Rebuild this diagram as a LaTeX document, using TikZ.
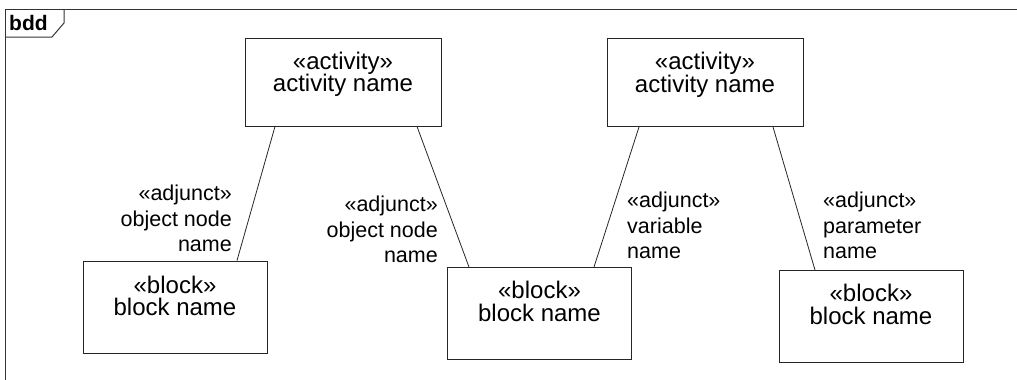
\documentclass[tikz,border=0pt]{standalone}
\usepackage{fontspec}
\setmainfont{Liberation Sans}
\usetikzlibrary{positioning}

\begin{document}
\begin{tikzpicture}[x=1pt,y=-1pt,
  box/.style={draw=black!85,line width=0.9pt,minimum width=184pt,minimum height=92pt,inner sep=0pt},
  act/.style={box,minimum width=196pt,minimum height=88pt},
  boxtext/.style={inner sep=0pt,align=center,font=\fontsize{24}{22.5}\selectfont},
  adj/.style={inner sep=0pt,font=\fontsize{21.5}{25.5}\selectfont},
  link/.style={black!85,line width=0.8pt}]
  \useasboundingbox (0,0) rectangle (1017,380);
  % frame and tab
  \draw[line width=1pt,black!80] (1017,9) -- (5,9) -- (5,380);
  \draw[line width=1pt,black!80] (64,9) -- (64,23) -- (52,37) -- (5,37);
  \node[anchor=base west,inner sep=0pt,font=\fontsize{21}{24}\selectfont\bfseries] (bdd) at (9,30) {bdd};
  % activities
  \node[act] (act1) at (343,82) {};
  \node[boxtext,below=14pt of act1.north] (act1t) {«activity»\\activity name};
  \node[act] (act2) at (705,82.5) {};
  \node[boxtext,below=14pt of act2.north] (act2t) {«activity»\\activity name};
  % blocks
  \node[box] (blk1) at (175,307) {};
  \node[boxtext,below=15pt of blk1.north] (blk1t) {«block»\\block name};
  \node[box] (blk2) at (539.5,313.5) {};
  \node[boxtext,below=14pt of blk2.north] (blk2t) {«block»\\block name};
  \node[box] (blk3) at (871,316.5) {};
  \node[boxtext,below=14pt of blk3.north] (blk3t) {«block»\\block name};
  % adjunct links
  \draw[link] ([xshift=-68pt]act1.south) -- ([xshift=62pt]blk1.north);
  \draw[link] ([xshift=74pt]act1.south) -- ([xshift=-70.5pt]blk2.north);
  \draw[link] ([xshift=-66pt]act2.south) -- ([xshift=54.5pt]blk2.north);
  \draw[link] ([xshift=68pt]act2.south) -- ([xshift=-56pt]blk3.north);
  \node[adj,anchor=north east,align=right] (lab1) at (232,185) {«adjunct»\\object node\\name};
  \node[adj,anchor=north east,align=right] (lab2) at (438,196) {«adjunct»\\object node\\name};
  \node[adj,anchor=north west,align=left] (lab3) at (627,192) {«adjunct»\\variable\\name};
  \node[adj,anchor=north west,align=left] (lab4) at (823,192) {«adjunct»\\parameter\\name};
\end{tikzpicture}
\end{document}
